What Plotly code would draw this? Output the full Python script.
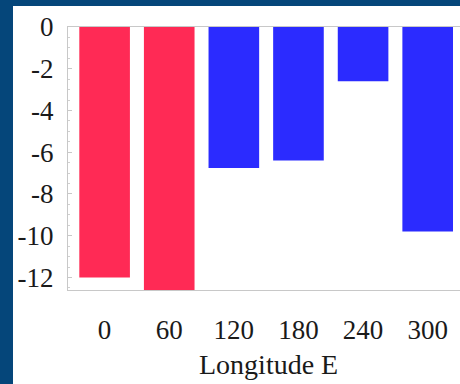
import plotly.graph_objects as go

longitudes = [0, 60, 120, 180, 240, 300]
values = [-12.0, -13.0, -6.75, -6.4, -2.6, -9.8]
colors = ["#ff2a55", "#ff2a55", "#2b2bff", "#2b2bff", "#2b2bff", "#2b2bff"]
y_ticks = [0, -2, -4, -6, -8, -10, -12]
x_title = "Longitude E"

W, H = 460, 384
L, R, T, B = 68, 0, 27, 94
pw, ph = W - L - R, H - T - B

fig = go.Figure(go.Bar(x=longitudes, y=values, width=47, marker=dict(color=colors, line=dict(width=0))))

font = dict(family="Liberation Serif, Times New Roman, serif", size=27, color="#1a1a1a")
tfont = dict(family="Liberation Serif, Times New Roman, serif", size=28, color="#1a1a1a")

fig.update_layout(
    width=W, height=H,
    margin=dict(l=L, r=R, t=T, b=B),
    paper_bgcolor="#05467a",
    plot_bgcolor="white",
    showlegend=False,
    font=font,
    shapes=[dict(type="rect", xref="paper", yref="paper",
                 x0=(13 - L) / pw, x1=1.05, y0=-(H - T - ph) / ph - 0.05, y1=1 + (T - 6) / ph,
                 fillcolor="white", line=dict(width=0), layer="below")],
    annotations=[dict(text=x_title, xref="paper", yref="paper", x=(268 - L) / pw, y=-(364 - T - ph) / ph,
                      showarrow=False, xanchor="center", yanchor="middle", font=tfont)],
)
fig.update_xaxes(range=[-34, 330], tickvals=longitudes, ticktext=[str(v) for v in longitudes],
                 showline=True, linecolor="#c8c8c8", linewidth=1, mirror=True, showgrid=False,
                 zeroline=False, ticks="", ticklabelstandoff=16, tickfont=font)
fig.update_yaxes(range=[-12.6, 0], tickvals=y_ticks, ticktext=[str(v) for v in y_ticks],
                 showline=True, linecolor="#c8c8c8", linewidth=1, showgrid=False, zeroline=False,
                 ticks="inside", ticklen=4, tickcolor="#c8c8c8",
                 minor=dict(ticks="inside", ticklen=2, tickcolor="#d0d0d0", dtick=0.5),
                 ticklabelstandoff=8, tickfont=font)

fig.write_html("out.html")
